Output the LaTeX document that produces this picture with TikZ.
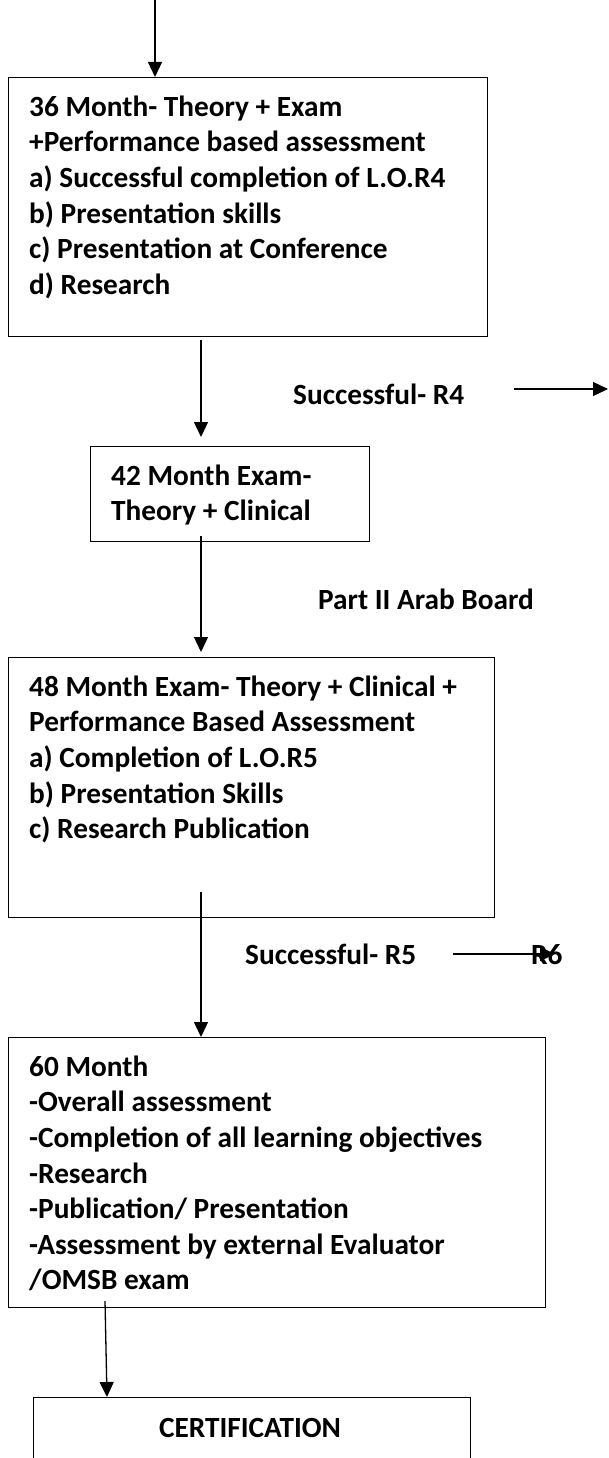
\documentclass[tikz,border=0pt]{standalone}
\usepackage{fontspec}
\setmainfont{Carlito}
\usetikzlibrary{arrows.meta}
\begin{document}
\begin{tikzpicture}[x=1pt,y=-1pt,
  box/.style={draw, line width=1.3pt, rectangle, inner sep=0pt, anchor=north west},
  txt/.style={anchor=north west, inner sep=0pt, align=left, font=\fontsize{29.3}{35.6}\selectfont\bfseries},
  lbl/.style={anchor=base west, inner sep=0pt, font=\fontsize{29.3}{35.6}\selectfont\bfseries},
  arr/.style={line width=1.3pt, -{Triangle[length=15pt,width=14pt]}}]
\useasboundingbox (0,0) rectangle (608,1458);
\clip (0,0) rectangle (608,1458);
% boxes
\node[box, minimum width=479pt, minimum height=259pt] (b1) at (8,77) {};
\node[box, minimum width=279pt, minimum height=95pt] (b2) at (90,446) {};
\node[box, minimum width=486pt, minimum height=260pt] (b3) at (8,657) {};
\node[box, minimum width=537pt, minimum height=270pt] (b4) at (8,1037) {};
\node[box, minimum width=437pt, minimum height=100pt] (b5) at (33,1397) {};
% texts
\node[txt] (t1) at (29,91) {\rule{0pt}{25pt}36 Month- Theory + Exam\\+Performance based assessment\\a) Successful completion of L.O.R4\\b) Presentation skills\\c) Presentation at Conference\\d) Research};
\node[txt] (t2) at (111,460) {\rule{0pt}{25pt}42 Month Exam-\\Theory + Clinical};
\node[txt] (t3) at (29,671) {\rule{0pt}{25pt}48 Month Exam- Theory + Clinical +\\Performance Based Assessment\\a) Completion of L.O.R5\\b) Presentation Skills\\c) Research Publication};
\node[txt] (t4) at (29,1051) {\rule{0pt}{25pt}60 Month\\-Overall assessment\\-Completion of all learning objectives\\-Research\\-Publication/ Presentation\\-Assessment by external Evaluator\\/OMSB exam};
\node[lbl, anchor=base] (t5) at (250,1437) {CERTIFICATION};
% labels
\node[lbl] (l1) at (293,404) {Successful- R4};
\node[lbl] (l2) at (318,609) {Part II Arab Board};
\node[lbl] (l3) at (245,964) {Successful- R5};
% connectors
\coordinate (a0) at (155,0);
\draw[arr] (a0) -- (a0 |- b1.north);
\coordinate (a1s) at (201,340);
\coordinate (a1e) at (201,437);
\draw[arr] (a1s) -- (a1e);
\coordinate (a2s) at (201,536);
\coordinate (a2e) at (201,652);
\draw[arr] (a2s) -- (a2e);
\coordinate (a3s) at (201,892);
\draw[arr] (a3s) -- (a3s |- b4.north);
\coordinate (a4s) at (105,1301);
\coordinate (a4e) at (107,1397);
\draw[arr] (a4s) -- (a4e);
\coordinate (r4s) at (514,389);
\coordinate (r4e) at (608,389);
\draw[arr] (r4s) -- (r4e);
\coordinate (r5s) at (453,954);
\coordinate (r5e) at (555,954);
\draw[arr] (r5s) -- (r5e);
\node[lbl] (l4) at (531,964) {R6};
\end{tikzpicture}
\end{document}
